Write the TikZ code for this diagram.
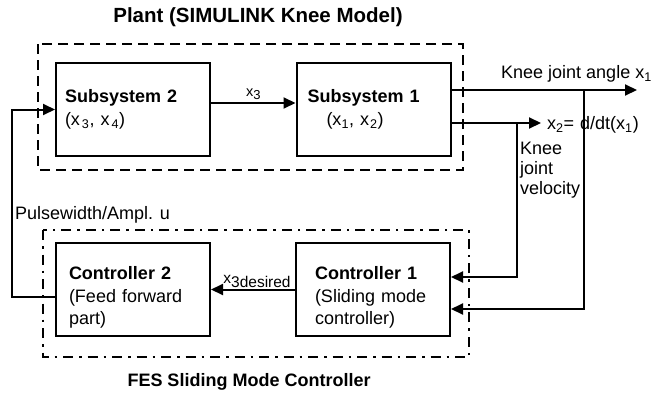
\documentclass[tikz,border=0pt]{standalone}
\usepackage{fontspec}
\setmainfont{Liberation Sans}
\usepackage{tikz}
\usetikzlibrary{arrows.meta}
\newcommand{\lowstart}{\rule{0pt}{29pt}}
\tikzstyle{block} = [rectangle, draw, line width=2pt, minimum width=154pt, minimum height=93pt, align=left, font=\fontsize{18}{22.5}\selectfont]
\tikzstyle{dashedbox} = [line width=2.8pt, dash pattern=on 10pt off 6pt]
\tikzstyle{dashdotbox} = [line width=2.8pt, dash pattern=on 10pt off 6pt on 2.5pt off 6pt]
\tikzstyle{line} = [draw, line width=2pt, -{Triangle[length=12pt,width=11pt]}]
\tikzstyle{sigtext} = [font=\fontsize{18}{20}\selectfont, inner sep=0pt]
\tikzstyle{subtext} = [font=\fontsize{14.5}{17}\selectfont, inner sep=2pt]
\tikzstyle{boxtitle} = [font=\bfseries\fontsize{18}{22}\selectfont]

\begin{document}
\begin{tikzpicture}[x=1pt, y=-1pt]
\useasboundingbox (0,0) rectangle (652,399);

\node [boxtitle, font=\bfseries\fontsize{20.5}{24}\selectfont] at (258, 17) (planttitle) {Plant (SIMULINK Knee Model)};

% plant
\draw [dashedbox] (38, 44) rectangle (463, 170);
\node [block, text width=136pt, inner xsep=9pt] at (133, 109.5) (sub2) {\textbf{Subsystem 2}\\(x\kern2pt\textsubscript{3}, x\kern2pt\textsubscript{4})};
\node [block, text width=132pt, inner xsep=11pt] at (373.5, 109.5) (sub1) {\textbf{Subsystem 1}\\\hspace*{19pt}(x\textsubscript{1}, x\kern1pt\textsubscript{2})};
\path [line] ([yshift=6.5pt]sub2.east) -- node [above, subtext] {x\raisebox{-3pt}{\fontsize{13}{13}\selectfont 3}} ([yshift=6.5pt]sub1.west);

% outputs
\coordinate (x1end) at (637, 90);
\coordinate (x2end) at (541, 123);
\path [line] (sub1.east |- x1end) -- (x1end);
\path [line] (sub1.east |- x2end) -- (x2end);
\node [sigtext, anchor=east] at (652, 74) (angletext) {Knee joint angle x\textsubscript{1}};
\node [sigtext, anchor=west] at (547, 125) (veltext) {x\textsubscript{2}= \kern1pt d/dt(x\textsubscript{1})};
\node [sigtext, anchor=west, align=left] at (520, 170) (velname) {Knee\\joint\\velocity};

% controller
\draw [dashdotbox] (43, 230) rectangle (469, 357);
\node [block, text width=128pt, inner xsep=13pt] at (133, 289.5) (ctrl2) {\lowstart\textbf{Controller 2}\\(Feed forward\\part)};
\node [block, text width=116pt, inner xsep=19pt] at (373, 289.5) (ctrl1) {\lowstart\textbf{Controller 1}\\(Sliding mode\\controller)};
\path [line] (ctrl1.west) -- node [above, font=\fontsize{15.5}{17}\selectfont, inner sep=1pt, xshift=4pt] {x\raisebox{-3.5pt}{3desired}} (ctrl2.east);

% feedback
\coordinate (velbranch) at (517, 123);
\coordinate (anglebranch) at (584, 90);
\path [line] (velbranch) |- ([yshift=12.5pt]ctrl1.east);
\path [line] (anglebranch) |- ([yshift=-19.5pt]ctrl1.east);
\coordinate (fbcorner) at (12, 200);
\path [line] ([yshift=-7.5pt]ctrl2.west) -| (fbcorner) |- (sub2.west);
\node [sigtext, anchor=west] at (15, 215) (utext) {Pulsewidth/Ampl. u};

\node [boxtitle] at (249, 382) (fescaption) {FES Sliding Mode Controller};

\end{tikzpicture}
\end{document}
